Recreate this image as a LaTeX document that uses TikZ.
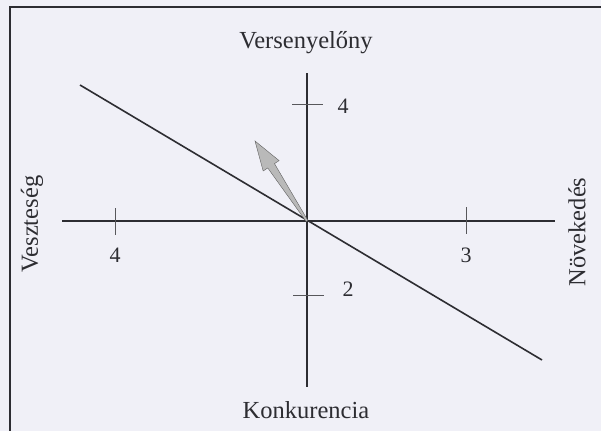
\documentclass[tikz,border=0pt]{standalone}
\usepackage{fontspec}
\setmainfont{Liberation Serif}
\usetikzlibrary{calc}
\definecolor{bg}{RGB}{240,240,247}
\definecolor{ink}{RGB}{45,45,50}
\begin{document}
\begin{tikzpicture}[x=1pt,y=-1pt,
  axis/.style={draw=ink,line width=1.8pt},
  tickmark/.style={draw=ink!80,line width=0.8pt},
  lbl/.style={text=ink,font=\fontsize{24.5}{26}\selectfont,inner sep=0pt},
  num/.style={text=ink,font=\fontsize{22}{24}\selectfont,inner sep=0pt}]
\fill[bg] (0,0) rectangle (601,431);
\useasboundingbox (0,0) rectangle (601,431);
% frame
\draw[ink,line width=1.6pt] (601,7) -- (10,7) -- (10,431);
% coordinates
\coordinate (O) at (307,221);
\coordinate (vtop) at (307,73);
\coordinate (vbot) at (307,387);
\coordinate (hl) at (62,221);
\coordinate (hr) at (555,221);
\coordinate (d1) at (80,85);
\coordinate (d2) at (542,360);
\coordinate (T) at (255,141);
% axes
\draw[axis] (vtop) -- (vbot);
\draw[axis] (hl) -- (hr);
\draw[axis,line width=1.6pt] (d1) -- (d2);
% ticks
\coordinate (t1a) at (292,104); \coordinate (t1b) at (323,104);
\coordinate (t2a) at (293,295); \coordinate (t2b) at (324,295);
\coordinate (t3a) at (115,208); \coordinate (t3b) at (115,235);
\coordinate (t4a) at (466,207); \coordinate (t4b) at (466,234);
\draw[tickmark] (t1a) -- (t1b);
\draw[tickmark] (t2a) -- (t2b);
\draw[tickmark] (t3a) -- (t3b);
\draw[tickmark] (t4a) -- (t4b);
% shaded arrow
\coordinate (B) at ($(O)!0.69!(T)$);
\fill[gray!55,draw=gray!75!black,line width=0.4pt]
  ($(O)!1pt!90:(T)$) -- ($(B)!4pt!90:(T)$) -- ($(B)!9.5pt!90:(T)$) -- (T)
  -- ($(B)!9.5pt!-90:(T)$) -- ($(B)!4pt!-90:(T)$) -- ($(O)!1pt!-90:(T)$) -- cycle;
% labels
\node[lbl] (top) at (306,43) {Versenyelőny};
\node[lbl] (bot) at (306,410) {Konkurencia};
\node[lbl,rotate=90] (left) at (32,224) {Veszteség};
\node[lbl,rotate=90] (right) at (577,232) {Növekedés};
\node[num] (n1) at (343,106) {4};
\node[num] (n2) at (348,289) {2};
\node[num] (n3) at (115,255) {4};
\node[num] (n4) at (466,255) {3};
\end{tikzpicture}
\end{document}
